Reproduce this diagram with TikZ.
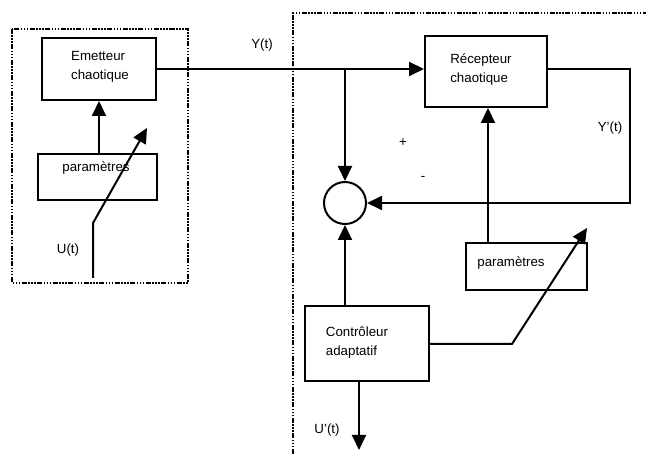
\documentclass[tikz,border=0pt]{standalone}
\usepackage{fontspec}
\setmainfont{Liberation Sans}
\usetikzlibrary{arrows.meta}
\begin{document}
\begin{tikzpicture}[x=1pt,y=-1pt,
  box/.style={draw,line width=2pt,rectangle,inner sep=0pt},
  txt/.style={font=\fontsize{13.3}{19}\selectfont,align=left,inner sep=0pt},
  arr/.style={line width=2pt,-{Triangle[length=15pt,width=14pt]}},
  frame/.style={line width=1.8pt,dash pattern=on 5pt off 1.5pt on 1.5pt off 1.5pt on 1.5pt off 1.5pt on 1.5pt off 1.5pt}]
\useasboundingbox (0,0) rectangle (646,454);
% frames
\draw[frame] (12,29) rectangle (188,283);
\draw[frame] (293,454) -- (293,13) -- (646,13);
% boxes
\node[box,minimum width=114pt,minimum height=62pt] (em) at (99,69) {};
\node[txt] (emt) at (100,67) {Emetteur\\chaotique};
\node[box,minimum width=119pt,minimum height=46pt] (pl) at (97.5,177) {};
\node[txt] (plt) at (96,168) {paramètres};
\node[box,minimum width=122pt,minimum height=71pt] (rec) at (486,71.5) {};
\node[txt] (rect) at (481,69) {Récepteur\\chaotique};
\node[box,minimum width=121pt,minimum height=47pt] (pr) at (526.5,266.5) {};
\node[txt] (prt) at (511,263) {paramètres};
\node[box,minimum width=124pt,minimum height=75pt] (ctrl) at (367,343.5) {};
\node[txt] (ctrlt) at (357,343) {Contrôleur\\adaptatif};
\node[draw,circle,line width=2pt,minimum size=42pt,inner sep=0pt] (sum) at (345,203) {};
% coordinates
\coordinate (br) at (345,69);
\coordinate (yc) at (630,203);
\coordinate (k2) at (512,344);
\coordinate (t2) at (587,228);
\coordinate (uo) at (359,450);
\coordinate (ub) at (93,278);
\coordinate (uk) at (93,223);
\coordinate (ut) at (147,128);
% connectors
\draw[arr] (em.east |- br) -- (rec.west |- br);
\draw[arr] (br) -- (sum.north);
\draw[arr] (rec.east |- br) -| (yc) -- (sum.east);
\draw[arr] (pr.north -| 488,0) -- (rec.south -| 488,0);
\draw[arr] (ctrl.north -| sum.south) -- (sum.south);
\draw[arr] (ctrl.east |- k2) -- (k2) -- (t2);
\draw[arr] (ctrl.south -| uo) -- (uo);
\draw[arr] (pl.north -| em.south) -- (em.south);
\draw[arr] (ub) -- (uk) -- (ut);
% labels
\node[txt] (ly) at (262,45) {Y(t)};
\node[txt] (lyp) at (610,128) {Y’(t)};
\node[txt] (lu) at (68,250) {U(t)};
\node[txt] (lup) at (327,430) {U’(t)};
\node[txt] (lplus) at (403,143) {+};
\node[txt] (lminus) at (423,178) {-};
\end{tikzpicture}
\end{document}
